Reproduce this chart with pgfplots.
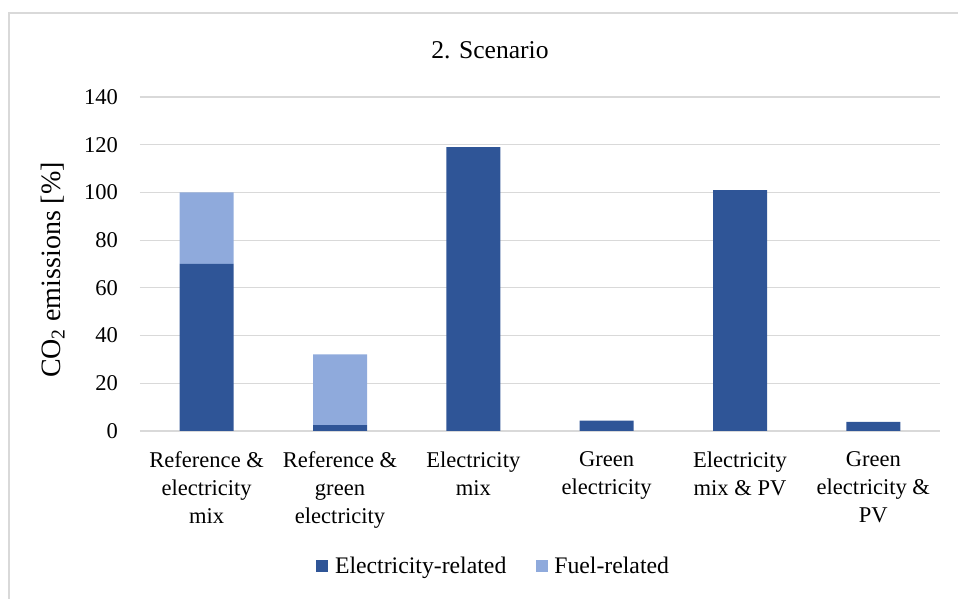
\documentclass[border=0pt]{standalone}
\usepackage{pgfplots}
\pgfplotsset{compat=1.18}
\usepackage{fontspec}
\setmainfont{Liberation Serif}
\definecolor{elec}{HTML}{2F5597}
\definecolor{fuel}{HTML}{8FAADC}
\definecolor{gridc}{HTML}{D9D9D9}
\begin{document}
\begin{tikzpicture}[x=0.75pt,y=0.75pt]
\path[use as bounding box] (0,0) rectangle (958,599);
\draw[gridc, line width=1.2pt] (9,0) -- (9,586) -- (958,586);
\node[font=\fontsize{19.2}{22}\selectfont] at (490,549) {2. Scenario};
\begin{axis}[
  at={(105pt,126pt)}, anchor=south west,
  scale only axis, width=600pt, height=250.5pt,
  ybar stacked, bar width=40.5pt,
  xmin=-0.5, xmax=5.5, ymin=0, ymax=140,
  ytick={0,20,...,140},
  xtick={0,1,2,3,4,5},
  xticklabels={Reference \&\\electricity\\mix, Reference \&\\green\\electricity, Electricity\\mix, Green\\electricity, Electricity\\mix \& PV, Green\\electricity \&\\PV},
  xticklabel style={align=center, font=\fontsize{16.9}{21}\selectfont, anchor=north, yshift=-12pt},
  yticklabel style={font=\fontsize{16.9}{20}\selectfont, xshift=-13pt},
  /pgf/number format/assume math mode=true,
  major tick length=0pt,
  axis line style={draw=none},
  ymajorgrids, grid style={gridc, line width=0.9pt},
  ylabel={CO\textsubscript{2} emissions [\%]},
  every axis y label/.style={at={(rel axis cs:-0.109,0.482)}, rotate=90, anchor=center, font=\fontsize{21}{24}\selectfont},
  legend columns=2,
  legend style={at={(0.4425,-0.404)}, anchor=center, draw=none, font=\fontsize{17.8}{20}\selectfont,
    /tikz/every odd column/.append style={column sep=3pt},
    /tikz/every even column/.append style={column sep=20pt}},
  legend image code/.code={\fill[#1] (0pt,-4.5pt) rectangle (9pt,4.5pt);},
  clip=false,
]
\addplot[fill=elec, draw=none] coordinates {(0,70) (1,2.5) (2,119) (3,4.3) (4,101) (5,3.8)};
\addplot[fill=fuel, draw=none] coordinates {(0,30) (1,29.6) (2,0) (3,0) (4,0) (5,0)};
\legend{Electricity-related, Fuel-related}
\end{axis}
\end{tikzpicture}
\end{document}
